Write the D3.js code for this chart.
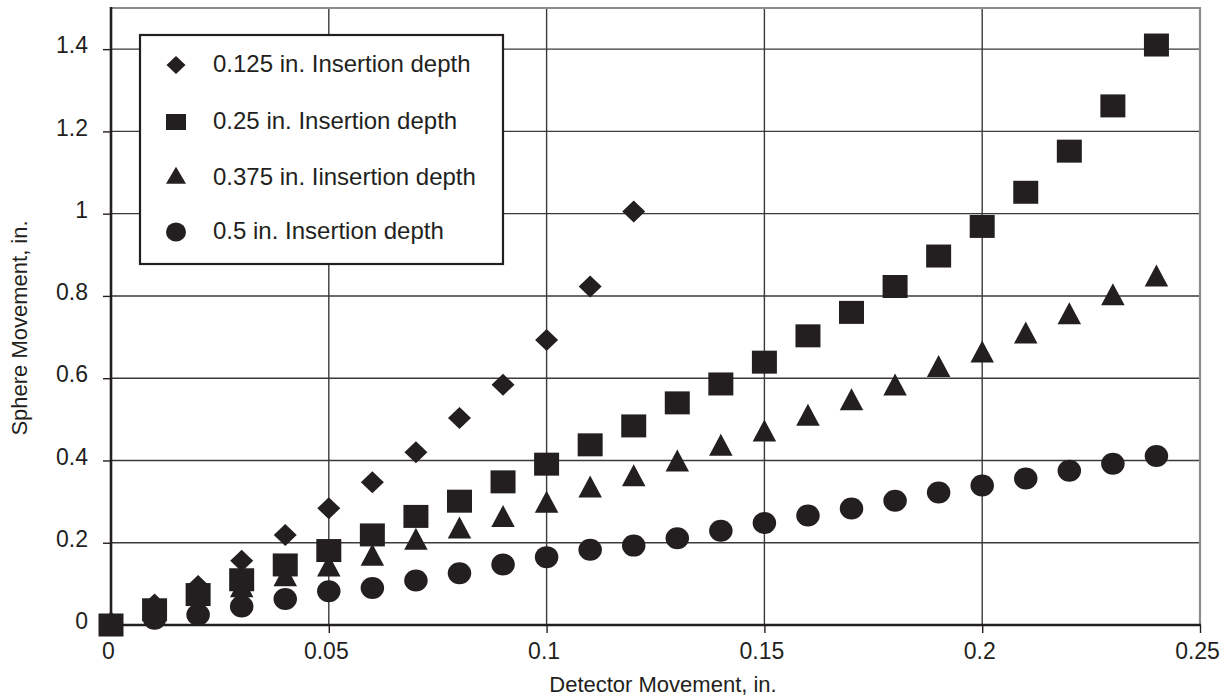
<!DOCTYPE html>
<html>
<head>
<meta charset="utf-8">
<script src="https://cdn.jsdelivr.net/npm/d3@7"></script>
<style>
  body { margin: 0; background: #fff; }
  svg { display: block; font-family: "Liberation Sans", Arial, sans-serif; }
</style>
</head>
<body>
<svg width="1226" height="700"></svg>
<script>
// detector movement values (in.)
const detector = [0, 0.01, 0.02, 0.03, 0.04, 0.05, 0.06, 0.07, 0.08, 0.09, 0.1, 0.11, 0.12,
  0.13, 0.14, 0.15, 0.16, 0.17, 0.18, 0.19, 0.2, 0.21, 0.22, 0.23, 0.24];

// sphere movement for each insertion depth
const depth0125 = [0, 0.05, 0.095, 0.156, 0.219, 0.284, 0.347, 0.42, 0.503, 0.584, 0.693, 0.823, 1.005];
const depth025 = [0, 0.037, 0.074, 0.11, 0.146, 0.181, 0.219, 0.264, 0.301, 0.348, 0.391, 0.438, 0.484,
  0.54, 0.586, 0.639, 0.703, 0.76, 0.823, 0.897, 0.969, 1.052, 1.152, 1.262, 1.41];
const depth0375 = [0, 0.03, 0.065, 0.085, 0.112, 0.136, 0.162, 0.201, 0.228, 0.256, 0.291, 0.328, 0.355,
  0.391, 0.429, 0.464, 0.502, 0.54, 0.576, 0.621, 0.656, 0.702, 0.749, 0.795, 0.841];
const depth05 = [0, 0.015, 0.025, 0.045, 0.063, 0.082, 0.09, 0.108, 0.126, 0.147, 0.165, 0.183, 0.193,
  0.211, 0.229, 0.248, 0.266, 0.283, 0.302, 0.322, 0.339, 0.356, 0.375, 0.392, 0.411];

const seriesNames = ["0.125 in. Insertion depth", "0.25 in. Insertion depth",
  "0.375 in. Iinsertion depth", "0.5 in. Insertion depth"];

const xTicks = [0, 0.05, 0.1, 0.15, 0.2, 0.25];
const xTickLabels = ["0", "0.05", "0.1", "0.15", "0.2", "0.25"];
const yTicks = [0, 0.2, 0.4, 0.6, 0.8, 1, 1.2, 1.4];
const yTickLabels = ["0", "0.2", "0.4", "0.6", "0.8", "1", "1.2", "1.4"];

const ink = "#231f20";
let margin = { top: 8, right: 26, bottom: 75, left: 111 },
  width = 1226 - margin.left - margin.right,
  height = 700 - margin.top - margin.bottom;

let svg = d3.select("svg");

const x = d3.scaleLinear().domain([0, 0.25]).range([margin.left, margin.left + width]);
const y = d3.scaleLinear().domain([0, 1.5]).range([margin.top + height, margin.top]);

// unit shapes, scaled to the marker box afterwards
const unitDiamond = { draw(c) { c.moveTo(0, -0.5); c.lineTo(0.5, 0); c.lineTo(0, 0.5); c.lineTo(-0.5, 0); c.closePath(); } };
const unitSquare = { draw(c) { c.rect(-0.5, -0.5, 1, 1); } };
const unitTriangle = { draw(c) { c.moveTo(0, -2 / 3); c.lineTo(0.5, 1 / 3); c.lineTo(-0.5, 1 / 3); c.closePath(); } };
const unitCircle = { draw(c) { c.moveTo(0.5, 0); c.arc(0, 0, 0.5, 0, 2 * Math.PI); } };

const markers = [
  { type: unitDiamond, w: 23, h: 22, lw: 19, lh: 18 },
  { type: unitSquare, w: 25, h: 23, lw: 20, lh: 16 },
  { type: unitTriangle, w: 23.5, h: 22, lw: 20, lh: 17 },
  { type: unitCircle, w: 23.5, h: 22, lw: 20, lh: 19 },
];
const seriesValues = [depth0125, depth025, depth0375, depth05];

// grid
svg.append("g")
  .selectAll("line")
  .data(yTicks.slice(1))
  .enter()
  .append("line")
  .attr("x1", x(0)).attr("x2", x(0.25))
  .attr("y1", (d) => y(d)).attr("y2", (d) => y(d))
  .attr("stroke", "#3a3a3a").attr("stroke-width", 1.4);

svg.append("g")
  .selectAll("line")
  .data(xTicks.slice(1, -1))
  .enter()
  .append("line")
  .attr("x1", (d) => x(d)).attr("x2", (d) => x(d))
  .attr("y1", y(1.5)).attr("y2", y(0))
  .attr("stroke", "#3a3a3a").attr("stroke-width", 1.4);

// top and right frame
svg.append("path")
  .attr("d", `M${x(0)},${y(1.5)}H${x(0.25)}V${y(0)}`)
  .attr("fill", "none").attr("stroke", "#8c8c8c").attr("stroke-width", 2.2);

// axes
const xAxis = svg.append("g")
  .attr("transform", `translate(0,${y(0)})`)
  .call(d3.axisBottom(x).tickValues(xTicks).tickFormat((d, i) => xTickLabels[i]).tickSize(8).tickPadding(10).tickSizeOuter(0));
xAxis.select(".domain").remove();
xAxis.selectAll("line").attr("stroke", ink).attr("stroke-width", 1.4);
xAxis.selectAll("text").attr("font-size", 23).attr("fill", ink).attr("font-family", "Liberation Sans, Arial, sans-serif").attr("dx", -3);

const yAxis = svg.append("g")
  .attr("transform", `translate(${x(0)},0)`)
  .call(d3.axisLeft(y).tickValues(yTicks).tickFormat((d, i) => yTickLabels[i]).tickSize(8).tickPadding(15).tickSizeOuter(0));
yAxis.select(".domain").remove();
yAxis.selectAll("line").attr("stroke", ink).attr("stroke-width", 1.4);
yAxis.selectAll("text").attr("font-size", 23).attr("fill", ink).attr("font-family", "Liberation Sans, Arial, sans-serif").attr("dy", "0.16em");

svg.append("line")
  .attr("x1", x(0)).attr("x2", x(0)).attr("y1", y(1.5) - 1).attr("y2", y(0) + 1)
  .attr("stroke", ink).attr("stroke-width", 2.6);
svg.append("line")
  .attr("x1", x(0) - 1).attr("x2", x(0.25) + 1).attr("y1", y(0)).attr("y2", y(0))
  .attr("stroke", ink).attr("stroke-width", 2.6);

// axis titles
svg.append("text")
  .attr("x", 663).attr("y", 692)
  .attr("text-anchor", "middle").attr("font-size", 22).attr("fill", ink)
  .text("Detector Movement, in.");
svg.append("text")
  .attr("transform", "translate(27,328) rotate(-90)")
  .attr("text-anchor", "middle").attr("font-size", 22).attr("fill", ink)
  .text("Sphere Movement, in.");

// points: circles, triangles, diamonds, then squares on top
[3, 2, 0, 1].forEach((s) => {
  const m = markers[s];
  svg.append("g")
    .selectAll("path")
    .data(seriesValues[s].map((v, i) => [detector[i], v]))
    .enter()
    .append("path")
    .attr("d", d3.symbol().type(m.type).size(1))
    .attr("transform", (d) => `translate(${x(d[0])},${y(d[1])}) scale(${m.w},${m.h})`)
    .attr("fill", ink);
});

// legend
const legend = svg.append("g");
legend.append("rect")
  .attr("x", 140).attr("y", 35).attr("width", 363).attr("height", 229)
  .attr("fill", "#fff").attr("stroke", ink).attr("stroke-width", 2.2);

const legendRowY = [65, 122, 178, 232];
seriesNames.forEach((name, i) => {
  const m = markers[i];
  legend.append("path")
    .attr("d", d3.symbol().type(m.type).size(1))
    .attr("transform", `translate(176,${legendRowY[i]}) scale(${m.lw},${m.lh})`)
    .attr("fill", ink);
  legend.append("text")
    .attr("x", 213).attr("y", legendRowY[i] + 7)
    .attr("font-size", 24).attr("fill", ink)
    .text(name);
});
</script>
</body>
</html>
